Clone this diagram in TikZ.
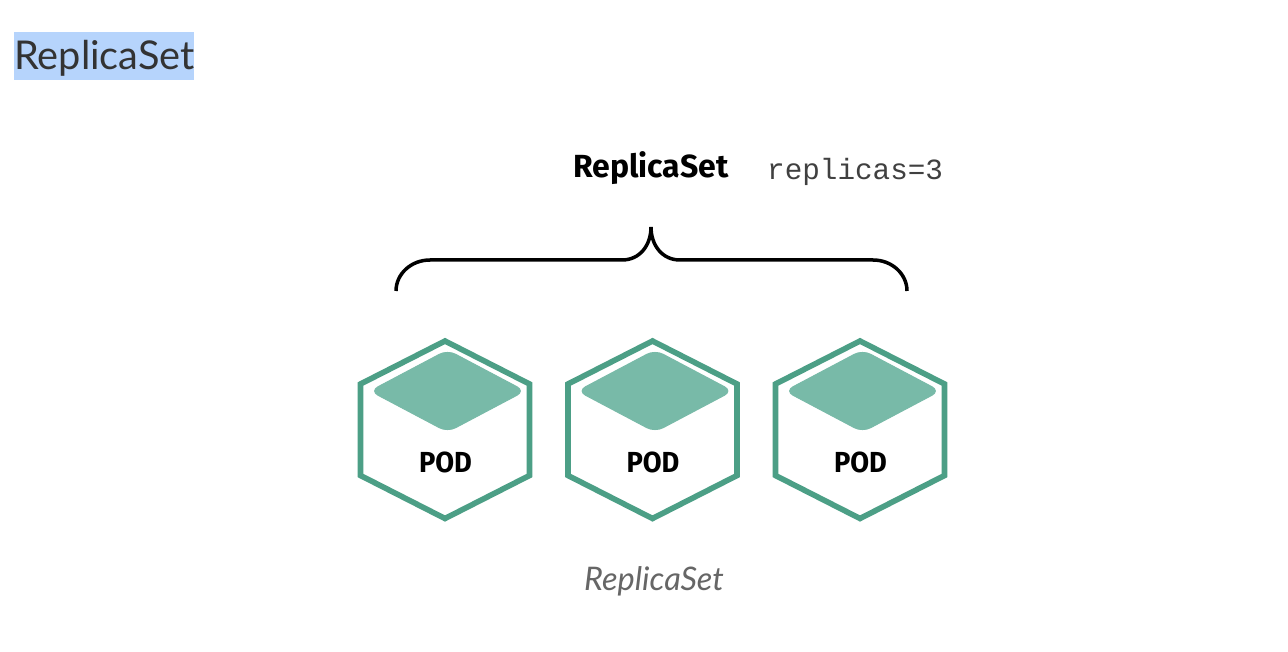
\documentclass[tikz,border=0pt]{standalone}
\usepackage{fontspec}
\setmainfont{Lato}
\newfontfamily\podfont{Fira Sans}
\newfontfamily\monofont{Liberation Mono}
\definecolor{hexline}{HTML}{4C9F86}
\definecolor{hexfill}{HTML}{78BAA8}
\definecolor{sel}{HTML}{B6D4FC}
\tikzset{
  x=1pt,y=-1pt,
  hexa/.style={draw=hexline,line width=5.6pt,miter limit=10,fill=white},
  topface/.style={fill=hexfill,draw=hexfill,line width=1pt,rounded corners=9pt},
  podtext/.style={font=\podfont\bfseries\fontsize{29}{32}\selectfont,text=black,inner sep=0pt,xscale=.94},
  bracepath/.style={draw=black,line width=3.5pt},
}
\newcommand{\podhex}[2]{%
  \draw[hexa] (#1,341) -- (#1+84.5,384) -- (#1+84.5,475.5) -- (#1,518.5) -- (#1-84.5,475.5) -- (#1-84.5,384) -- cycle;
  \draw[topface] (#1+2.5,350) -- (#1+80,391) -- (#1+2.5,432) -- (#1-75,391) -- cycle;
  \node[podtext,anchor=base] (#2) at (#1+0.5,472) {POD};
}
\begin{document}
\begin{tikzpicture}
\useasboundingbox (0,0) rectangle (1288,652);
\fill[white] (0,0) rectangle (1288,652);
\fill[sel] (14,32) rectangle (194,80);
\node[inner sep=0pt,anchor=base west,text=black!80,font=\fontsize{39.7}{48}\selectfont] (title) at (14,70) {ReplicaSet};
\node[inner sep=0pt,anchor=base,font=\podfont\bfseries\fontsize{32}{36}\selectfont] (rs) at (651,178) {ReplicaSet};
\node[inner sep=0pt,anchor=base west,text=black!75,font=\monofont\fontsize{29.3}{34}\selectfont] (rep) at (767,180) {replicas=3};
\coordinate (bl) at (396,291);
\coordinate (br) at (907,291);
\coordinate (bt) at (651,227);
\draw[bracepath] (bl) .. controls (396,274) and (411,260) .. (430,260) -- (622,260) .. controls (640,260) and (651,245) .. (bt) .. controls (651,245) and (662,260) .. (680,260) -- (873,260) .. controls (892,260) and (907,274) .. (br);
\podhex{445}{p1}
\podhex{652.5}{p2}
\podhex{860}{p3}
\node[inner sep=0pt,anchor=base,text=black!60,font=\itshape\fontsize{32.5}{36}\selectfont] (cap) at (654,590) {ReplicaSet};
\end{tikzpicture}
\end{document}
